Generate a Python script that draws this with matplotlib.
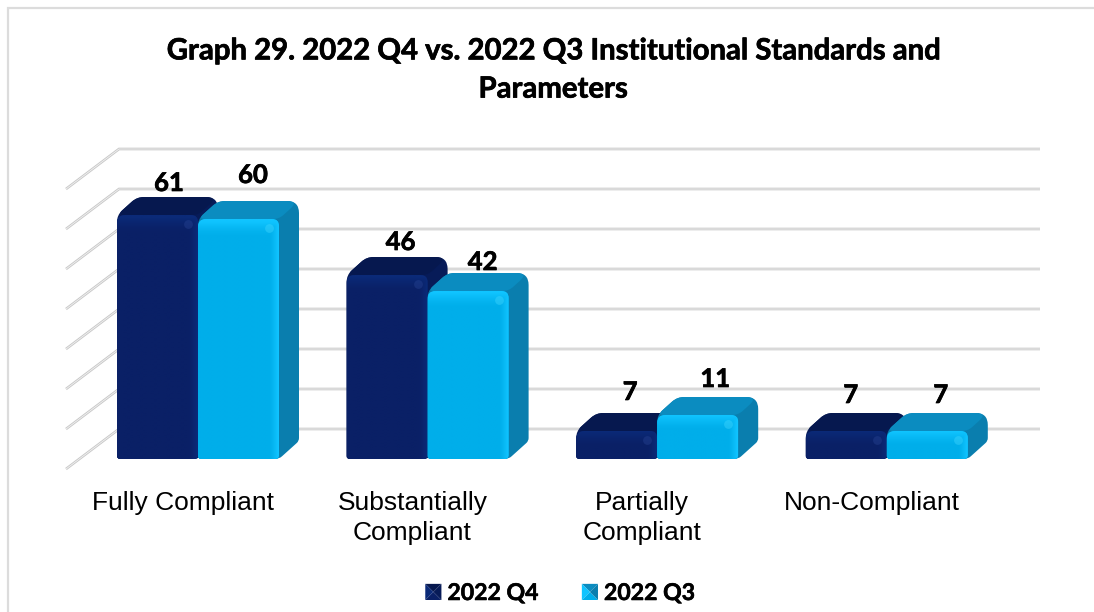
import numpy as np
import matplotlib
matplotlib.use("Agg")
import matplotlib.pyplot as plt
import matplotlib.patheffects as pe
from matplotlib.path import Path
from matplotlib.patches import PathPatch, Polygon, Patch
from matplotlib.legend_handler import HandlerBase

categories = ["Fully Compliant", "Substantially\nCompliant", "Partially\nCompliant", "Non-Compliant"]
series_names = ["2022 Q4", "2022 Q3"]
q4_values = [61, 46, 7, 7]
q3_values = [60, 42, 11, 7]
grid_values = [0, 10, 20, 30, 40, 50, 60, 70]
title_text = "Graph 29. 2022 Q4 vs. 2022 Q3 Institutional Standards and\nParameters"

W, H = 1094, 612
PX_X = 229.6      # pixels per category
PX_Y = 4.0        # pixels per value unit
X0, Y0 = 117.0, 459.0
BAR_W = 81.0
DEPTH_X, DEPTH_Y = 20.0, 18.0

fig = plt.figure(figsize=(W / 100, H / 100), dpi=100, facecolor="white")
ax = fig.add_axes([0, 0, 1, 1])
ax.set_axis_off()
xlim = (-X0 / PX_X, (W - X0) / PX_X)
ylim = ((Y0 - H) / PX_Y, Y0 / PX_Y)


def dx(px):
    return px / PX_X


def dy(px):
    return px / PX_Y


def rounded_path(pts, radii):
    pts_px = [np.array([p[0] * PX_X, p[1] * PX_Y]) for p in pts]
    n = len(pts_px)
    verts, codes = [], []
    for i in range(n):
        p, a, b = pts_px[i], pts_px[i - 1], pts_px[(i + 1) % n]
        r = radii[i]
        ua = (a - p) / np.linalg.norm(a - p)
        ub = (b - p) / np.linalg.norm(b - p)
        r1 = min(r, np.linalg.norm(a - p) * 0.5)
        r2 = min(r, np.linalg.norm(b - p) * 0.5)
        s, e = p + ua * r1, p + ub * r2
        verts += [s, p, e]
        codes += [Path.MOVETO if i == 0 else Path.LINETO, Path.CURVE3, Path.CURVE3]
    verts.append(verts[0])
    codes.append(Path.CLOSEPOLY)
    v = np.array(verts) / np.array([PX_X, PX_Y])
    return Path(v, codes)


def draw_bar(cat, slot, value, pal, z):
    x0 = cat + dx(BAR_W) * slot
    x1 = x0 + dx(BAR_W)
    ex, ey = dx(DEPTH_X), dy(DEPTH_Y)
    sil = rounded_path([(x0, 0), (x1, 0), (x1 + ex, ey), (x1 + ex, value + ey),
                        (x0 + ex, value + ey), (x0, value)],
                       [3, 4, 3, 12, 7, 7])
    ax.add_patch(PathPatch(sil, fc=pal["side"], ec="none", zorder=z))
    top = rounded_path([(x0, value), (x0 + ex, value + ey), (x1 + ex, value + ey), (x1, value)],
                       [7, 7, 12, 6])
    ax.add_patch(PathPatch(top, fc=pal["top"], ec="none", zorder=z + 0.1))
    front = rounded_path([(x0, 0), (x0, value), (x1, value), (x1, 0)], [3, 8, 7, 4])
    edge = PathPatch(front, fc=pal["front"], ec="none", zorder=z + 0.2)
    ax.add_patch(edge)
    n = 48
    g = np.ones((n, n, 4))
    c_main = np.array(matplotlib.colors.to_rgb(pal["front"]))
    c_rim = np.array(matplotlib.colors.to_rgb(pal["rim"]))
    yy, xx = np.mgrid[0:n, 0:n] / (n - 1)
    hpx = max(value * PX_Y, 1)
    d_top = yy * hpx
    d_r = (1 - xx) * BAR_W
    t = np.clip(1 - np.minimum(d_top / 14, d_r / 9), 0, 1) ** 1.3
    t = t[:, :, None]
    g[:, :, :3] = c_main * (1 - t) + c_rim * t
    im = ax.imshow(g, extent=(x0, x1, 0, value), aspect="auto", origin="upper",
                   zorder=z + 0.3, interpolation="bilinear")
    im.set_clip_path(edge)
    ax.scatter([x1 - dx(10)], [value - dy(9)], s=40, color=pal["spot"], alpha=0.4,
               linewidths=0, zorder=z + 0.4)


dark = dict(front="#0a2066", rim="#0b2a78", top="#06184f", side="#071b58", spot="#2a4696")
light = dict(front="#00aeea", rim="#10c4ff", top="#0b8cc0", side="#0a7eae", spot="#45d8ff")

# chart-area border
border_x = [dx(8 - X0), dx(8 - X0), dx(W - X0)]
border_y = [dy(Y0 - H), dy(Y0 - 8), dy(Y0 - 8)]
ax.plot(border_x, border_y, color="#dcdcdc", lw=1.6, solid_joinstyle="miter", zorder=1)

# 3-D wall gridlines
g_left = dx(119 - X0)
g_right = dx(1040 - X0)
g_front = dx(66 - X0)
for v in grid_values:
    yb = v + dy(30)
    yf = v - dy(10)
    for lw, col in ((1.9, "#c8c8c8"), (0.6, "#f2f2f2")):
        ax.plot([g_front, g_left, g_right], [yf, yb, yb], color=col, lw=lw, zorder=2,
                solid_capstyle="butt", solid_joinstyle="miter")

# bars
for i, (a, b) in enumerate(zip(q4_values, q3_values)):
    draw_bar(i, 0, a, dark, 3 + i)
    draw_bar(i, 1, b, light, 3.5 + i)

heavy = [pe.withStroke(linewidth=0.5, foreground="black")]

# value labels: pixel nudges above each bar's back-top edge
label_nudge_q4 = [(52, 14), (54, 15), (54, 21), (45, 18)]
label_nudge_q3 = [(55, 26), (55, 11), (58, 18), (54, 18)]
for i in range(4):
    for slot, vals, nudge in ((0, q4_values, label_nudge_q4), (1, q3_values, label_nudge_q3)):
        v = vals[i]
        ax.text(i + dx(BAR_W) * slot + dx(nudge[i][0]), v + dy(DEPTH_Y) + dy(nudge[i][1]), str(v),
                ha="center", va="center", fontsize=18.5, fontweight="bold", family="Lato",
                color="black", zorder=20, path_effects=heavy)

# category labels
label_cx = [182.5, 412.5, 642, 871.5]
for i, c in enumerate(categories):
    ax.text(i + dx(label_cx[i] - X0 - PX_X * i), dy(Y0 - 491), c, ha="center", va="top",
            fontsize=19, family="Liberation Sans", color="black", linespacing=1.31, zorder=20)

# title
ax.text(dx(553 - X0), dy(Y0 - 70.5), title_text, ha="center", va="center", fontsize=21.1,
        fontweight="bold", family="Lato", color="black", linespacing=1.58, zorder=20,
        path_effects=heavy)


class PyramidHandler(HandlerBase):
    def create_artists(self, legend, orig, xd, yd, w, h, fontsize, trans):
        pal = orig.pal
        cx, cy = w / 2 - xd, h / 2 - yd
        l, r, b, t = -xd, w - xd, -yd, h - yd
        faces = [([(l, b), (r, b), (cx, cy)], pal["front"]),
                 ([(l, t), (r, t), (cx, cy)], pal["top"]),
                 ([(l, b), (l, t), (cx, cy)], pal["rim"]),
                 ([(r, b), (r, t), (cx, cy)], pal["side"])]
        return [Polygon(p, closed=True, fc=c, ec="none", transform=trans) for p, c in faces]


h1 = Patch(label=series_names[0]); h1.pal = dark
h2 = Patch(label=series_names[1]); h2.pal = light
leg = ax.legend(handles=[h1, h2], handler_map={Patch: PyramidHandler()}, ncols=2, frameon=False,
                loc="center", bbox_to_anchor=(560 / W, 1 - 593.5 / H), bbox_transform=fig.transFigure,
                prop={"family": "Lato", "weight": "bold", "size": 16.6},
                handlelength=0.7, handleheight=0.7, handletextpad=0.26, columnspacing=1.9)
for t in leg.get_texts():
    t.set_path_effects([pe.withStroke(linewidth=0.4, foreground="black")])

ax.set_xlim(*xlim)
ax.set_ylim(*ylim)
fig.savefig("out.png", dpi=100, facecolor="white")
